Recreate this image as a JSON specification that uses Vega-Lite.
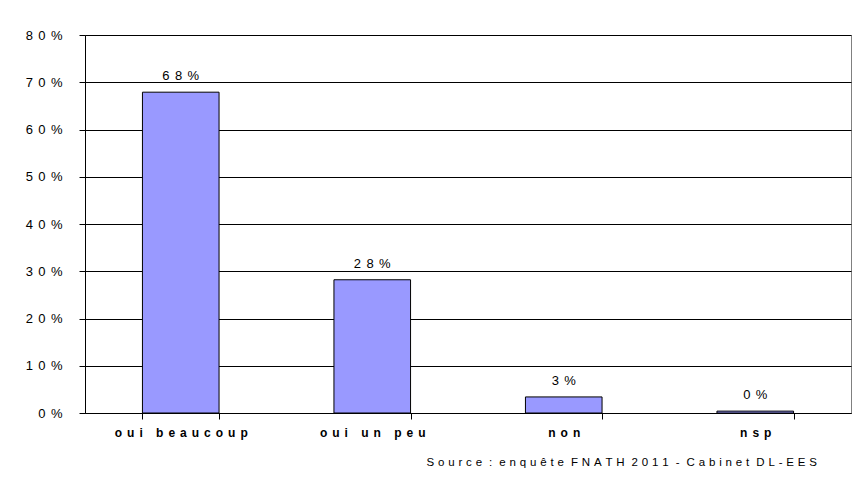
{
  "$schema": "https://vega.github.io/schema/vega-lite/v6.json",
  "width": 766,
  "height": 378,
  "autosize": "none",
  "padding": {"left": 85, "top": 35, "right": 2, "bottom": 66},
  "background": "white",
  "config": {
    "font": "Liberation Sans",
    "view": {"stroke": "#808080", "strokeWidth": 1}
  },
  "data": {
    "values": [
      {"cat": "oui beaucoup", "value": 0.679, "label": "6\u2004\u200a8\u2004\u200a%"},
      {"cat": "oui un peu", "value": 0.282, "label": "2\u2004\u200a8\u2004\u200a%"},
      {"cat": "non", "value": 0.034, "label": "3\u2004\u200a%"},
      {"cat": "nsp", "value": 0.004, "label": "0\u2004\u200a%"}
    ]
  },
  "title": {
    "text": "S\u2004o\u2004u\u2004r\u2004c\u2004e\u2004 :\u2004 e\u2004n\u2004q\u2004u\u2004ê\u2004t\u2004e\u2004 F\u2004N\u2004A\u2004T\u2004H\u2004 2\u20040\u20041\u20041\u2004 -\u2004 C\u2004a\u2004b\u2004i\u2004n\u2004e\u2004t\u2004 D\u2004L\u2004-\u2004E\u2004E\u2004S",
    "orient": "bottom",
    "anchor": "end",
    "fontSize": 11.5,
    "fontWeight": "normal",
    "color": "#000000",
    "font": "Liberation Sans",
    "dx": -34,
    "offset": 19
  },
  "encoding": {
    "x": {
      "field": "cat",
      "type": "nominal",
      "sort": null,
      "scale": {"paddingInner": 0.6, "paddingOuter": 0.3},
      "axis": {
        "title": null,
        "labelAngle": 0,
        "labelFont": "Liberation Sans",
        "labelFontSize": 12,
        "labelFontWeight": "bold",
        "labelColor": "#000000",
        "labelPadding": 8,
        "labelExpr": "join(split(datum.label,''),'\u2004\u200a')",
        "domainColor": "#000000",
        "tickColor": "#000000",
        "tickSize": 6,
        "tickBand": "extent",
        "grid": false
      }
    },
    "y": {
      "field": "value",
      "type": "quantitative",
      "scale": {"domain": [0, 0.8], "nice": false},
      "axis": {
        "title": null,
        "values": [0, 0.1, 0.2, 0.3, 0.4, 0.5, 0.6, 0.7, 0.8],
        "labelExpr": "join(split(format(datum.value,'.0%'),''),'\u2004\u200a')",
        "labelFont": "Liberation Sans",
        "labelFontSize": 13,
        "labelColor": "#000000",
        "labelPadding": 17,
        "tickSize": 6,
        "tickColor": "#000000",
        "domainColor": "#000000",
        "gridColor": "#000000",
        "gridOpacity": 1,
        "grid": true
      }
    }
  },
  "layer": [
    {
      "mark": {"type": "bar", "fill": "#9999FF", "stroke": "#000000", "strokeWidth": 1}
    },
    {
      "mark": {"type": "text", "dy": -9, "fontSize": 13, "font": "Liberation Sans", "color": "#000000", "baseline": "bottom"},
      "encoding": {"text": {"field": "label"}}
    }
  ]
}
